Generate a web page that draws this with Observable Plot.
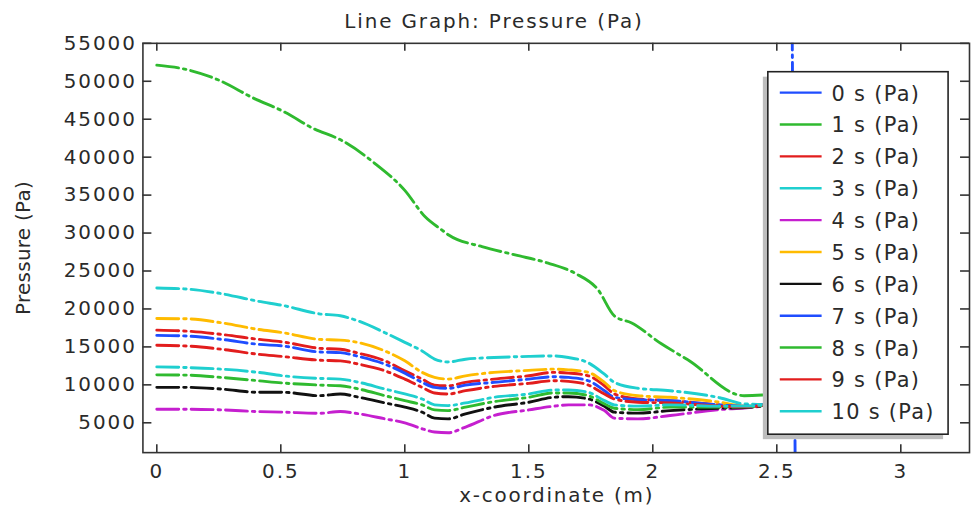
<!DOCTYPE html>
<html>
<head>
<meta charset="utf-8">
<script src="https://cdn.jsdelivr.net/npm/d3@7"></script>
<script src="https://cdn.jsdelivr.net/npm/@observablehq/plot@0.6"></script>
<style>
  html, body { margin: 0; padding: 0; background: #fff; overflow: hidden; }
  #chart { width: 971px; height: 508px; overflow: hidden; }
</style>
</head>
<body>
<div id="chart"></div>
<script>
// ---------- data ----------
const titleText = "Line Graph: Pressure (Pa)";
const xLabel = "x-coordinate (m)";
const yLabel = "Pressure (Pa)";

const seriesNames = ["0 s (Pa)", "1 s (Pa)", "2 s (Pa)", "3 s (Pa)", "4 s (Pa)", "5 s (Pa)",
                     "6 s (Pa)", "7 s (Pa)", "8 s (Pa)", "9 s (Pa)", "10 s (Pa)"];
const seriesColors = ["#1f4dff", "#2fba2f", "#e21d1d", "#1fcfcf", "#c51fcf", "#ffbb00",
                      "#111111", "#1f4dff", "#2fba2f", "#e21d1d", "#1fcfcf"];

const xTicks = [0, 0.5, 1, 1.5, 2, 2.5, 3];
const yTicks = [5000, 10000, 15000, 20000, 25000, 30000, 35000, 40000, 45000, 50000, 55000];

// 0 s: vertical spike near x = 2.57
const x0s = [2.562, 2.574];
const p0s = [57000, 0];

// 1 s
const x1s = [0, 0.118, 0.252, 0.386, 0.519, 0.627, 0.747, 0.881, 1.0, 1.082, 1.15, 1.177, 1.311,
             1.445, 1.578, 1.685, 1.779, 1.846, 1.913, 2.033, 2.141, 2.368, 2.465];
const p1s = [52120, 51560, 50120, 47840, 45880, 43840, 42180, 39130, 35630, 32140, 30390, 29740, 28210,
             27120, 26040, 24730, 22540, 19050, 18180, 15450, 13300, 8570, 8700];

// shared x positions for the remaining series
const xCommon = [0, 0.12, 0.26, 0.41, 0.51, 0.655, 0.74, 0.815, 0.92, 1.0, 1.07, 1.12, 1.175,
                 1.245, 1.36, 1.5, 1.6, 1.66, 1.74, 1.805, 1.845, 1.94, 2.07, 2.27, 2.37, 2.465];
const p2s  = [17210, 17080, 16650, 16000, 15640, 14820, 14690, 14160, 13160, 11850, 10760, 9970, 9880,
              10330, 10760, 11200, 11640, 11550, 11190, 9880, 8800, 8140, 7920, 7360, 7150, 7350];
const p3s  = [22760, 22630, 22020, 21010, 20450, 19360, 19100, 18390, 16870, 15600, 14460, 13400, 13020,
              13380, 13600, 13750, 13810, 13600, 12900, 11400, 10330, 9550, 9230, 8300, 7490, 7400];
const p4s  = [6790, 6790, 6700, 6480, 6400, 6250, 6480, 6180, 5520, 5000, 4210, 3780, 3690,
              4440, 5960, 6700, 7190, 7360, 7360, 6610, 5610, 5520, 5960, 6740, 6950, 7250];
const p5s  = [18740, 18700, 18180, 17300, 16870, 16000, 15900, 15560, 14460, 13160, 11640, 10980, 10760,
              11190, 11640, 11900, 12070, 11980, 11640, 10330, 9230, 8570, 8360, 7710, 7190, 7400];
const p6s  = [9670, 9670, 9450, 9020, 9020, 8570, 8800, 8360, 7620, 7060, 6400, 5610, 5520,
              6180, 7060, 7710, 8360, 8440, 8140, 7190, 6400, 6270, 6610, 6920, 7000, 7300];
const p7s  = [16520, 16430, 16000, 15340, 15120, 14330, 14250, 13730, 12720, 11540, 10330, 9670, 9540,
              9970, 10330, 10760, 11060, 10980, 10540, 9230, 8360, 8050, 7920, 7360, 7200, 7400];
const p8s  = [11320, 11280, 10980, 10540, 10240, 9970, 9880, 9450, 8570, 7920, 7360, 6700, 6610,
              7060, 7790, 8360, 8930, 8930, 8570, 7490, 6920, 6740, 7060, 7060, 7100, 7400];
const p9s  = [15210, 15120, 14690, 14030, 13730, 13250, 13160, 12720, 11850, 10760, 9670, 8930, 8800,
              9230, 9800, 10200, 10540, 10460, 9970, 8800, 8140, 7710, 7620, 7190, 7100, 7350];
const p10s = [12370, 12280, 12070, 11640, 11190, 10850, 10760, 10330, 9450, 8800, 8140, 7360, 7270,
              7620, 8360, 8800, 9320, 9320, 9020, 7920, 7360, 7190, 7360, 7190, 7200, 7450];

// ---------- build rows ----------
const seriesData = [
  [x0s, p0s], [x1s, p1s], [xCommon, p2s], [xCommon, p3s], [xCommon, p4s], [xCommon, p5s],
  [xCommon, p6s], [xCommon, p7s], [xCommon, p8s], [xCommon, p9s], [xCommon, p10s]
];
const rows = [];
seriesData.forEach(([xs, ps], i) => {
  xs.forEach((x, j) => rows.push({series: seriesNames[i], x, p: ps[j]}));
});

// ---------- layout ----------
const W = 975, H = 508;
const mL = 143, mR = 2, mT = 43, mB = 54;
const innerW = W - mL - mR, innerH = H - mT - mB;
const axisColor = "#333";
const textColor = "#2a2a2a";

const chart = Plot.plot({
  width: W,
  height: H,
  marginLeft: mL,
  marginRight: mR,
  marginTop: mT,
  marginBottom: mB,
  style: {
    fontFamily: "'DejaVu Sans', sans-serif",
    fontSize: "20px",
    color: textColor,
    background: "white",
    letterSpacing: "2px",
    overflow: "visible"
  },
  x: {domain: [-0.056, 3.277]},
  y: {domain: [1070, 55000]},
  color: {domain: seriesNames, range: seriesColors},
  marks: [
    Plot.line(rows, {
      x: "x", y: "p", z: "series", stroke: "series",
      strokeWidth: 2.9, strokeDasharray: "22,5,2.5,5", curve: "monotone-x", clip: true
    }),
    Plot.frame({stroke: axisColor, strokeWidth: 1.6}),
    // inward tick marks on all four sides
    Plot.tickX(xTicks, {x: d => d, insetTop: innerH - 8, stroke: axisColor, strokeWidth: 1.6}),
    Plot.tickX(xTicks, {x: d => d, insetBottom: innerH - 8, stroke: axisColor, strokeWidth: 1.6}),
    Plot.tickY(yTicks, {y: d => d, insetRight: innerW - 9, stroke: axisColor, strokeWidth: 1.6}),
    Plot.tickY(yTicks, {y: d => d, insetLeft: innerW - 9, stroke: axisColor, strokeWidth: 1.6}),
    Plot.axisX({ticks: xTicks, tickSize: 0, tickPadding: 11, tickFormat: d => String(d), label: null, fill: textColor}),
    Plot.axisY({ticks: yTicks, tickSize: 0, tickPadding: 6, tickFormat: d => String(d), label: null, fill: textColor})
  ]
});

document.getElementById("chart").appendChild(chart);

// ---------- titles & legend (annotations) ----------
const svg = d3.select(chart);

svg.append("text")
  .attr("x", 496).attr("y", 28)
  .attr("text-anchor", "middle")
  .attr("fill", textColor)
  .style("font-size", "20px")
  .style("letter-spacing", "1.9px")
  .text(titleText);

svg.append("text")
  .attr("x", 559).attr("y", 504)
  .attr("text-anchor", "middle")
  .attr("fill", textColor)
  .style("font-size", "20px")
  .style("letter-spacing", "1.8px")
  .text(xLabel);

svg.append("text")
  .attr("transform", "translate(30,249) rotate(-90)")
  .attr("text-anchor", "middle")
  .attr("fill", textColor)
  .style("font-size", "20px")
  .style("letter-spacing", "0.3px")
  .text(yLabel);

// legend
const lg = svg.append("g");
lg.append("rect")
  .attr("x", 766).attr("y", 77).attr("width", 181).attr("height", 364)
  .attr("fill", "#bdbdbd");
lg.append("rect")
  .attr("x", 771).attr("y", 72).attr("width", 181).attr("height", 364)
  .attr("fill", "white").attr("stroke", "#222").attr("stroke-width", 1.6);
seriesNames.forEach((name, i) => {
  const cy = 93 + i * 32;
  lg.append("line")
    .attr("x1", 783).attr("x2", 825).attr("y1", cy).attr("y2", cy)
    .attr("stroke", seriesColors[i]).attr("stroke-width", 2.4);
  lg.append("text")
    .attr("x", 835).attr("y", cy + 8)
    .attr("text-anchor", "start")
    .attr("fill", textColor)
    .style("font-size", "21px")
    .style("letter-spacing", "1.3px")
    .text(name);
});
</script>
</body>
</html>
